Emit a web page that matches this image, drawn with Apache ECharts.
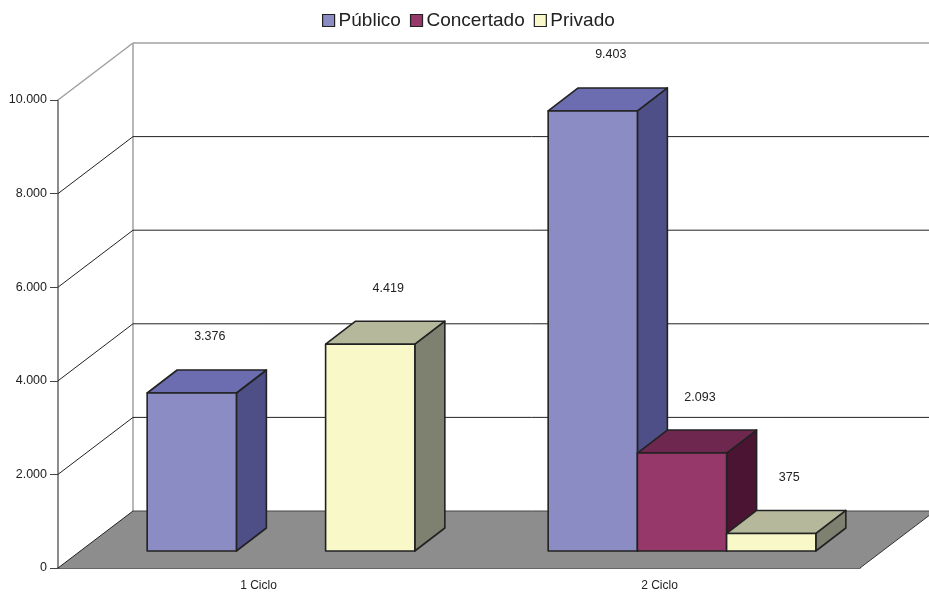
<!DOCTYPE html>
<html>
<head>
<meta charset="utf-8">
<script src="https://cdn.jsdelivr.net/npm/echarts@6/dist/echarts.min.js"></script>
<style>
html,body{margin:0;padding:0;background:#fff;}
#chart{width:929px;height:593px;}
</style>
</head>
<body>
<div id="chart"></div>
<script>
// ---- data ----
const categories = ['1 Ciclo', '2 Ciclo'];
const seriesNames = ['Público', 'Concertado', 'Privado'];
const publico = [3376, 9403];
const concertado = [null, 2093];
const privado = [4419, 375];
const yTicks = [0, 2000, 4000, 6000, 8000, 10000];

// ---- styling ----
const FONT = '"Liberation Sans", Arial, sans-serif';
const DEPTH_X = 75, DEPTH_Y = -57;        // floor / wall depth
const FRONT_X = 22.5, FRONT_Y = -17;      // bar front plane offset
const BAR_DX = 30, BAR_DY = -23;          // bar depth
const BAR_FRAC = 0.2225;                  // bar width as fraction of band
const LABEL_DY = -56;
const colors = [
  {front: '#8c8cc4', top: '#6b6db0', side: '#4d4f86'},
  {front: '#96386a', top: '#6e284f', side: '#4a1432'},
  {front: '#f8f8c8', top: '#b5b89b', side: '#7e8070'}
];
const fmt = v => String(v).replace(/\B(?=(\d{3})+(?!\d))/g, '.');

function renderBar(params, api) {
  const v = api.value(1);
  if (v == null || isNaN(v)) return;
  const s = seriesNames.indexOf(params.seriesName);
  const c = colors[s];
  const bandW = api.size([1, 0])[0];
  const pt = api.coord([api.value(0), v]);
  const p0 = api.coord([api.value(0), 0]);
  const bw = bandW * BAR_FRAC;
  const x0 = pt[0] - bw * seriesNames.length / 2 + s * bw + FRONT_X;
  const x1 = x0 + bw;
  const yt = pt[1] + FRONT_Y;
  const yb = p0[1] + FRONT_Y;
  const stroke = {stroke: '#222', lineWidth: 1.6, lineJoin: 'round'};
  return {
    type: 'group',
    children: [
      {type: 'polygon', shape: {points: [[x1, yt], [x1 + BAR_DX, yt + BAR_DY], [x1 + BAR_DX, yb + BAR_DY], [x1, yb]]},
        style: Object.assign({fill: c.side}, stroke)},
      {type: 'polygon', shape: {points: [[x0, yt], [x1, yt], [x1 + BAR_DX, yt + BAR_DY], [x0 + BAR_DX, yt + BAR_DY]]},
        style: Object.assign({fill: c.top}, stroke)},
      {type: 'rect', shape: {x: x0, y: yt, width: bw, height: yb - yt},
        style: Object.assign({fill: c.front}, stroke)},
      {type: 'text', x: x0 + (bw + BAR_DX) / 2 + 3, y: yt + LABEL_DY,
        style: {text: fmt(v), fill: '#222', font: '12.5px ' + FONT, align: 'center', verticalAlign: 'middle'}}
    ]
  };
}

function renderWalls(params, api) {
  const v = api.value(1);
  const cs = params.coordSys;
  const y = api.coord([0, v])[1];
  const x0 = cs.x, x1 = cs.x + cs.width;
  const maxV = yTicks[yTicks.length - 1];
  const children = [];
  if (v === 0) {
    const yTop = api.coord([0, maxV])[1];
    children.push({type: 'polygon', shape: {points: [[x0, y], [x1, y], [x1 + DEPTH_X, y + DEPTH_Y], [x0 + DEPTH_X, y + DEPTH_Y]]},
      style: {fill: '#8e8d8d', stroke: null}});
    children.push({type: 'line', shape: {x1: x1, y1: y, x2: x1 + DEPTH_X, y2: y + DEPTH_Y},
      style: {stroke: '#333', lineWidth: 1}});
    children.push({type: 'line', shape: {x1: x0 + DEPTH_X, y1: yTop + DEPTH_Y, x2: x0 + DEPTH_X, y2: y + DEPTH_Y},
      style: {stroke: '#a0a0a0', lineWidth: 1.5}});
  }
  const isTop = v === maxV;
  const col = isTop ? '#a0a0a0' : '#222';
  children.push({type: 'line', shape: {x1: x0, y1: y, x2: x0 + DEPTH_X, y2: y + DEPTH_Y},
    style: {stroke: col, lineWidth: isTop ? 1.5 : 1}});
  children.push({type: 'line', shape: {x1: x0 + DEPTH_X, y1: y + DEPTH_Y, x2: x1 + DEPTH_X, y2: y + DEPTH_Y},
    style: {stroke: v === 0 ? '#444' : col, lineWidth: isTop ? 1.5 : 1}});
  return {type: 'group', children: children};
}

const barData = [publico, concertado, privado];
const series = [{
  type: 'custom', name: '_walls', renderItem: renderWalls, silent: true, z: 1,
  data: yTicks.map(v => [0, v]), encode: {x: 0, y: 1}
}];
seriesNames.forEach((n, i) => {
  series.push({
    type: 'custom', name: n, renderItem: renderBar, z: 2,
    itemStyle: {color: colors[i].front, borderColor: '#222', borderWidth: 1.2},
    data: barData[i].map((v, k) => [k, v == null ? '-' : v]),
    encode: {x: 0, y: 1}
  });
});

const chart = echarts.init(document.getElementById('chart'), null, {renderer: 'canvas'});
chart.setOption({
  animation: false,
  backgroundColor: '#fff',
  legend: {
    data: seriesNames, top: 6, left: 317,
    icon: 'rect', itemWidth: 12, itemHeight: 12, itemGap: 9,
    itemStyle: {borderColor: '#222', borderWidth: 1.2},
    textStyle: {fontFamily: FONT, fontSize: 19, color: '#222', padding: [0, 0, 0, -1]}
  },
  grid: {left: 58, right: 69, top: 100, bottom: 25},
  xAxis: {
    type: 'category', data: categories, boundaryGap: true,
    axisLine: {lineStyle: {color: '#333', width: 1.5}},
    axisTick: {length: 9, lineStyle: {color: '#333'}},
    axisLabel: {fontFamily: FONT, fontSize: 12, color: '#222', margin: 12}
  },
  yAxis: {
    type: 'value', min: 0, max: 10000, interval: 2000,
    axisLine: {show: true, lineStyle: {color: '#666', width: 1.5}},
    axisTick: {show: true, length: 8, lineStyle: {color: '#444'}},
    axisLabel: {fontFamily: FONT, fontSize: 12.5, color: '#222', margin: 11, formatter: fmt},
    splitLine: {show: false}
  },
  series: series
});
</script>
</body>
</html>
